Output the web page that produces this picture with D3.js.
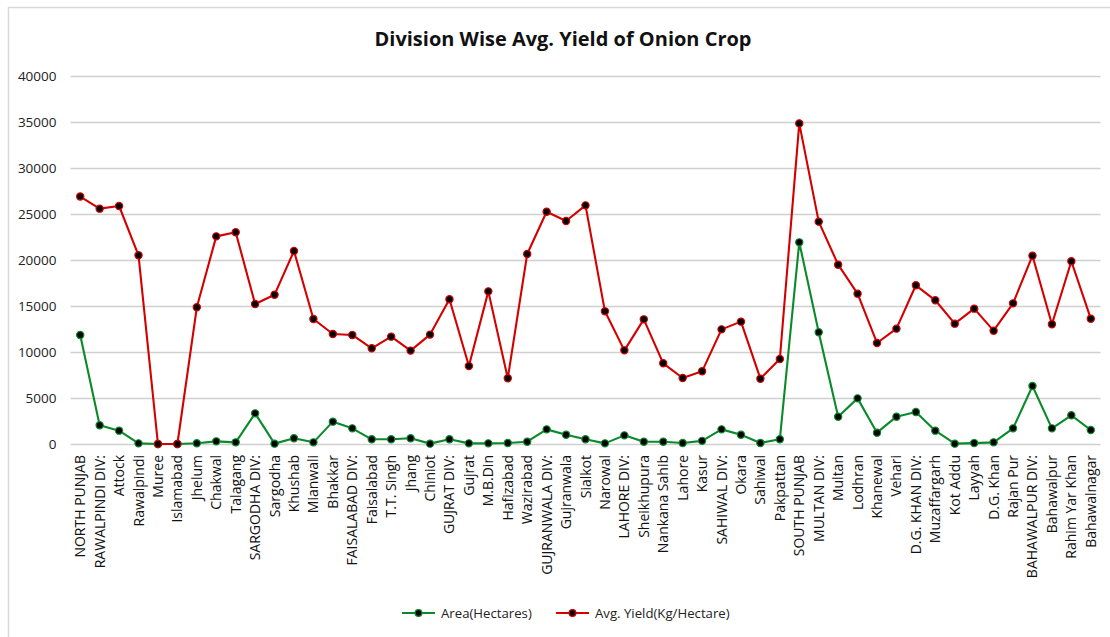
<!DOCTYPE html>
<html>
<head>
<meta charset="utf-8">
<script src="https://cdn.jsdelivr.net/npm/d3@7"></script>
<style>
  html, body { margin: 0; padding: 0; background: #fff; }
  svg { display: block; font-family: "Open Sans", "DejaVu Sans", sans-serif; }
</style>
</head>
<body>
<svg id="chart" width="1110" height="637"></svg>
<script>
// Districts and divisions of Punjab, in report order
const districts = [
  "NORTH PUNJAB", "RAWALPINDI DIV:", "Attock", "Rawalpindi", "Muree", "Islamabad",
  "Jhelum", "Chakwal", "Talagang", "SARGODHA DIV:", "Sargodha", "Khushab",
  "Mianwali", "Bhakkar", "FAISALABAD DIV:", "Faisalabad", "T.T. Singh", "Jhang",
  "Chiniot", "GUJRAT DIV:", "Gujrat", "M.B.Din", "Hafizabad", "Wazirabad",
  "GUJRANWALA DIV:", "Gujranwala", "Sialkot", "Narowal", "LAHORE DIV:", "Sheikhupura",
  "Nankana Sahib", "Lahore", "Kasur", "SAHIWAL DIV:", "Okara", "Sahiwal",
  "Pakpattan", "SOUTH PUNJAB", "MULTAN DIV:", "Multan", "Lodhran", "Khanewal",
  "Vehari", "D.G. KHAN DIV:", "Muzaffargarh", "Kot Addu", "Layyah", "D.G. Khan",
  "Rajan Pur", "BAHAWALPUR DIV:", "Bahawalpur", "Rahim Yar Khan", "Bahawalnagar"
];

// Area under onion (hectares)
const areaHectares = [
  11850, 2030, 1450, 70, 0, 0, 80, 290, 180, 3330, 40, 620,
  180, 2430, 1700, 510, 510, 620, 40, 510, 70, 70, 110, 250,
  1590, 1010, 510, 70, 940, 250, 250, 110, 340, 1590, 1010, 110,
  510, 21920, 12140, 2970, 4960, 1230, 2970, 3480, 1450, 40, 100, 180,
  1700, 6300, 1700, 3120, 1520
];

// Average yield (kg per hectare)
const avgYield = [
  26900, 25580, 25870, 20510, 0, 0, 14860, 22570, 23010, 15220, 16230, 20980,
  13590, 11960, 11850, 10400, 11670, 10150, 11890, 15730, 8480, 16590, 7140, 20650,
  25250, 24240, 25940, 14420, 10180, 13550, 8770, 7170, 7900, 12460, 13300, 7100,
  9240, 34850, 24170, 19490, 16340, 10980, 12540, 17250, 15620, 13080, 14710, 12320,
  15290, 20470, 13010, 19860, 13620
];

const yTicks = [0, 5000, 10000, 15000, 20000, 25000, 30000, 35000, 40000];

const series = [
  { name: "Area(Hectares)", values: areaHectares, color: "#0a8a2a" },
  { name: "Avg. Yield(Kg/Hectare)", values: avgYield, color: "#d40000" }
];

const svg = d3.select("#chart");
const plot = { left: 70.5, right: 1100.5, top: 76, bottom: 444 };

// outer chart frame
svg.append("rect")
  .attr("x", 8.5).attr("y", 7.5)
  .attr("width", 1140).attr("height", 700)
  .attr("fill", "#fff").attr("stroke", "#d9d9d9").attr("stroke-width", 1.5);

svg.append("text")
  .attr("x", 563).attr("y", 46)
  .attr("text-anchor", "middle")
  .attr("font-size", 19.5).attr("font-weight", 700)
  .attr("fill", "#111")
  .attr("textLength", 377).attr("lengthAdjust", "spacingAndGlyphs")
  .text("Division Wise Avg. Yield of Onion Crop");

const x = d3.scaleBand().domain(districts).range([plot.left, plot.right]);
const y = d3.scaleLinear().domain([0, 40000]).range([plot.bottom, plot.top]);
const cx = d => x(d) + x.bandwidth() / 2;

// horizontal gridlines + y labels
const yAxis = d3.axisLeft(y).tickValues(yTicks).tickSize(-(plot.right - plot.left)).tickPadding(14).tickFormat(d3.format("d"));
const gy = svg.append("g").attr("transform", `translate(${plot.left},0)`).call(yAxis);
gy.select(".domain").remove();
gy.selectAll(".tick line").attr("stroke", "#d0d0d0").attr("stroke-width", 1.3);
gy.selectAll(".tick text").attr("font-size", 13.5).attr("fill", "#222")
  .attr("font-family", "'Open Sans', sans-serif");

// category labels, rotated
const xAxis = d3.axisBottom(x).tickSize(0).tickPadding(0);
const gx = svg.append("g").attr("transform", `translate(0,${plot.bottom})`).call(xAxis);
gx.select(".domain").remove();
gx.selectAll(".tick text")
  .attr("font-size", 14).attr("fill", "#111")
  .attr("font-family", "'Open Sans', sans-serif")
  .attr("text-anchor", "end")
  .attr("dy", null)
  .attr("transform", "translate(5,11) rotate(-90)")
  .attr("y", 0).attr("x", 0);

// series lines and markers
series.forEach(s => {
  const pts = districts.map((d, i) => [cx(d), y(s.values[i])]);
  svg.append("path")
    .attr("d", d3.line()(pts))
    .attr("fill", "none").attr("stroke", s.color)
    .attr("stroke-width", 2.1).attr("stroke-linejoin", "round");
  svg.append("g").selectAll("circle").data(pts).join("circle")
    .attr("cx", p => p[0]).attr("cy", p => p[1]).attr("r", 3.6)
    .attr("fill", "#000").attr("stroke", s.color).attr("stroke-width", 1.2);
});

// legend
const legendItems = [
  { x: 402, s: series[0] },
  { x: 556, s: series[1] }
];
legendItems.forEach(({ x: lx, s }) => {
  const g = svg.append("g").attr("transform", `translate(${lx},613)`);
  g.append("line").attr("x1", 0).attr("x2", 33).attr("stroke", s.color).attr("stroke-width", 2.1);
  g.append("circle").attr("cx", 16.5).attr("r", 3.4).attr("fill", "#000").attr("stroke", s.color).attr("stroke-width", 1.2);
  g.append("text").attr("x", 39).attr("y", 4.5).attr("font-size", 13.2).attr("fill", "#222").text(s.name);
});
</script>
</body>
</html>
